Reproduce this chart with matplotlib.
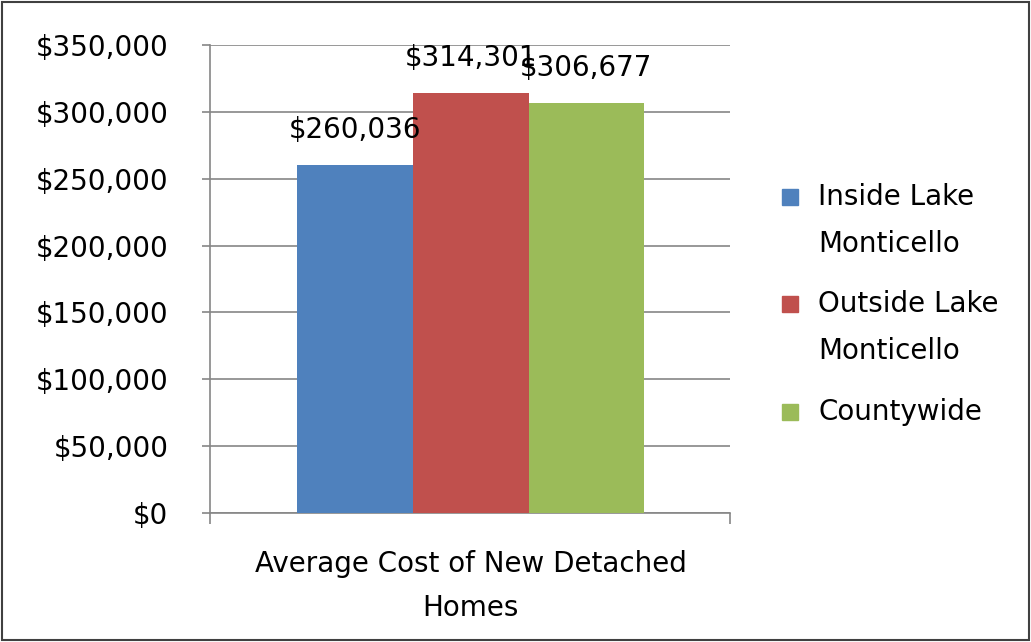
import matplotlib.pyplot as plt
from matplotlib.patches import Rectangle

plt.rcParams['font.family'] = ['DejaVu Sans']

series = ['Inside Lake\nMonticello', 'Outside Lake\nMonticello', 'Countywide']
values = [260036, 314301, 306677]
colors = ['#4F81BD', '#C0504D', '#9BBB59']
category = 'Average Cost of New Detached\nHomes'
yticks = [0, 50000, 100000, 150000, 200000, 250000, 300000, 350000]

fig = plt.figure(figsize=(10.31, 6.42), dpi=100)
ax = fig.add_axes([0.2037, 0.2009, 0.5044, 0.7290])

positions = [0, 1, 2]
for pos, val, col in zip(positions, values, colors):
    ax.bar(pos, val, width=1.0, color=col, zorder=3)
    ax.annotate('${:,}'.format(val), (pos, val), xytext=(0, 15),
                textcoords='offset points', ha='center', va='bottom',
                fontsize=20, zorder=4)

ax.set_ylim(0, 350000)
ax.set_xlim(-1.25, 3.24)
ax.set_yticks(yticks)
ax.set_yticklabels(['${:,}'.format(t) for t in yticks], fontsize=20)
ax.yaxis.grid(True, color='#868686', linewidth=1.2, zorder=0)
ax.set_xticks([-1.25, 3.24])
ax.set_xticklabels(['', ''])
ax.tick_params(axis='y', length=6, color='#868686', width=1.2, pad=24)
ax.tick_params(axis='x', length=8, color='#868686', width=1.2)
for s in ['top', 'right']:
    ax.spines[s].set_visible(False)
for s in ['left', 'bottom']:
    ax.spines[s].set_color('#868686')
    ax.spines[s].set_linewidth(1.2)

ax.text(1, -28000, category, ha='center', va='top', fontsize=20,
        transform=ax.transData, linespacing=1.7)

# legend drawn by hand: squares line up with the first text line
legend_y = [197, 304, 412]
for name, col, y in zip(series, colors, legend_y):
    yf = 1 - y / 642
    fig.add_artist(Rectangle((782 / 1031, yf - 8 / 642), 16 / 1031, 16 / 642,
                             transform=fig.transFigure, color=col))
    fig.text(818 / 1031, yf + 14 / 642, name, ha='left', va='top', fontsize=20,
             linespacing=1.85)

fig.patches.append(Rectangle((0.002, 0.003), 0.996, 0.994, transform=fig.transFigure,
                             fill=False, edgecolor='#404040', linewidth=1.5))

fig.savefig('out.png', dpi=100)
